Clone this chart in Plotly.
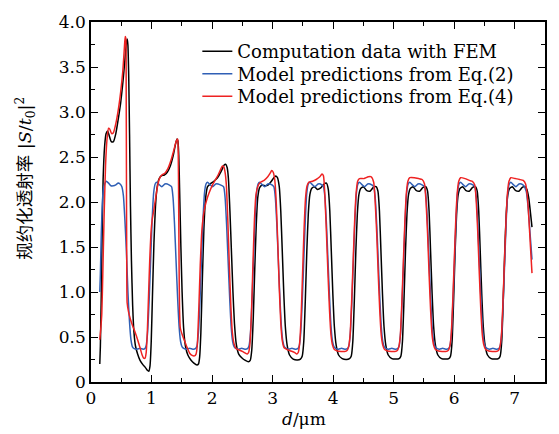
import plotly.graph_objects as go

# ---- data (d in um, normalized transmittance) ----
fem_x = [0.145, 0.155, 0.168, 0.183, 0.20, 0.225, 0.25, 0.275, 0.30, 0.335, 0.37, 0.41, 0.45, 0.49, 0.53, 0.56, 0.585, 0.598, 0.61, 0.623,
         0.637, 0.652, 0.668, 0.688, 0.71, 0.735, 0.77, 0.81, 0.86, 0.90, 0.93, 0.955, 0.975, 0.995, 1.015, 1.04, 1.065, 1.09, 1.12, 1.16,
         1.21, 1.26, 1.31, 1.36, 1.395, 1.42, 1.435, 1.45, 1.465, 1.485, 1.505, 1.53, 1.56, 1.60, 1.65, 1.70, 1.75, 1.775, 1.795, 1.815,
         1.84, 1.865, 1.89, 1.925, 1.97, 2.03, 2.09, 2.15, 2.20, 2.225, 2.25, 2.27, 2.295, 2.32, 2.345, 2.37, 2.40, 2.44, 2.49, 2.55,
         2.60, 2.63, 2.655, 2.68, 2.705, 2.73, 2.755, 2.785, 2.83, 2.88, 2.93, 2.98, 3.02, 3.05, 3.08, 3.11, 3.135, 3.16, 3.185, 3.21,
         3.24, 3.28, 3.34, 3.41, 3.46, 3.49, 3.515, 3.54, 3.565, 3.59, 3.615, 3.645, 3.69, 3.74, 3.80, 3.85, 3.89, 3.92, 3.945, 3.97,
         3.995, 4.02, 4.05, 4.09, 4.15, 4.22, 4.27, 4.30, 4.325, 4.35, 4.375, 4.40, 4.425, 4.455, 4.50, 4.55, 4.61, 4.66, 4.71, 4.74,
         4.765, 4.79, 4.815, 4.84, 4.87, 4.91, 4.97, 5.04, 5.09, 5.12, 5.145, 5.17, 5.195, 5.22, 5.245, 5.275, 5.32, 5.37, 5.43, 5.48,
         5.53, 5.56, 5.585, 5.61, 5.635, 5.66, 5.69, 5.73, 5.79, 5.86, 5.91, 5.94, 5.965, 5.99, 6.015, 6.04, 6.065, 6.095, 6.14, 6.19,
         6.25, 6.30, 6.35, 6.38, 6.405, 6.43, 6.455, 6.48, 6.51, 6.55, 6.61, 6.68, 6.73, 6.76, 6.785, 6.81, 6.835, 6.86, 6.885, 6.915,
         6.96, 7.01, 7.07, 7.12, 7.17, 7.20, 7.23, 7.26, 7.285]
fem_y = [0.20, 0.40, 0.90, 1.60, 2.25, 2.62, 2.76, 2.79, 2.74, 2.67, 2.67, 2.76, 2.92, 3.10, 3.35, 3.58, 3.77, 3.81, 3.74, 3.40,
         2.75, 1.95, 1.35, 0.85, 0.55, 0.40, 0.31, 0.24, 0.19, 0.16, 0.13, 0.12, 0.18, 0.45, 0.95, 1.55, 1.95, 2.15, 2.25, 2.29,
         2.30, 2.33, 2.40, 2.52, 2.64, 2.70, 2.68, 2.52, 2.10, 1.50, 1.00, 0.60, 0.40, 0.30, 0.245, 0.21, 0.19, 0.20, 0.28, 0.55,
         1.15, 1.70, 2.02, 2.17, 2.20, 2.23, 2.27, 2.34, 2.41, 2.42, 2.38, 2.26, 1.90, 1.45, 1.00, 0.65, 0.42, 0.31, 0.27, 0.24,
         0.225, 0.24, 0.35, 0.70, 1.25, 1.75, 2.05, 2.16, 2.19, 2.18, 2.19, 2.23, 2.27, 2.29, 2.27, 2.17, 1.90, 1.45, 0.98, 0.62,
         0.41, 0.30, 0.255, 0.245, 0.255, 0.29, 0.45, 0.90, 1.45, 1.87, 2.08, 2.15, 2.17, 2.14, 2.16, 2.20, 2.21, 2.14, 1.90, 1.45,
         0.98, 0.62, 0.41, 0.30, 0.26, 0.25, 0.26, 0.29, 0.45, 0.90, 1.45, 1.87, 2.08, 2.15, 2.17, 2.13, 2.12, 2.16, 2.17, 2.12,
         1.90, 1.45, 0.98, 0.62, 0.41, 0.30, 0.26, 0.255, 0.26, 0.29, 0.45, 0.90, 1.45, 1.87, 2.08, 2.15, 2.17, 2.13, 2.12, 2.16,
         2.17, 2.12, 1.90, 1.45, 0.98, 0.62, 0.41, 0.30, 0.26, 0.255, 0.26, 0.29, 0.45, 0.90, 1.45, 1.87, 2.08, 2.15, 2.17, 2.13,
         2.12, 2.16, 2.17, 2.12, 1.90, 1.45, 0.98, 0.62, 0.41, 0.30, 0.26, 0.255, 0.26, 0.29, 0.45, 0.90, 1.45, 1.87, 2.08, 2.15,
         2.17, 2.13, 2.12, 2.16, 2.17, 2.14, 2.05, 1.88, 1.72]

eq2_x = [0.145, 0.155, 0.17, 0.185, 0.20, 0.225, 0.255, 0.29, 0.33, 0.37, 0.41, 0.45, 0.48, 0.51, 0.535, 0.56, 0.585, 0.61, 0.635, 0.66,
         0.685, 0.715, 0.76, 0.81, 0.86, 0.89, 0.91, 0.935, 0.96, 0.985, 1.01, 1.035, 1.06, 1.085, 1.13, 1.17, 1.22, 1.26, 1.33, 1.355,
         1.38, 1.405, 1.43, 1.455, 1.48, 1.505, 1.54, 1.58, 1.63, 1.68, 1.725, 1.75, 1.775, 1.80, 1.825, 1.85, 1.875, 1.90, 1.925, 1.97,
         2.01, 2.06, 2.10, 2.19, 2.215, 2.24, 2.265, 2.29, 2.315, 2.34, 2.365, 2.40, 2.44, 2.49, 2.54, 2.585, 2.61, 2.635, 2.66, 2.685,
         2.71, 2.735, 2.76, 2.785, 2.83, 2.87, 2.92, 2.96, 3.02, 3.045, 3.07, 3.095, 3.12, 3.145, 3.17, 3.195, 3.23, 3.27, 3.32, 3.37,
         3.415, 3.44, 3.465, 3.49, 3.515, 3.54, 3.565, 3.59, 3.615, 3.66, 3.70, 3.75, 3.79, 3.84, 3.865, 3.89, 3.915, 3.94, 3.965, 3.99,
         4.015, 4.05, 4.09, 4.14, 4.19, 4.235, 4.26, 4.285, 4.31, 4.335, 4.36, 4.385, 4.41, 4.435, 4.48, 4.52, 4.57, 4.61, 4.67, 4.695,
         4.72, 4.745, 4.77, 4.795, 4.82, 4.845, 4.88, 4.92, 4.97, 5.02, 5.065, 5.09, 5.115, 5.14, 5.165, 5.19, 5.215, 5.24, 5.265, 5.31,
         5.35, 5.40, 5.44, 5.51, 5.535, 5.56, 5.585, 5.61, 5.635, 5.66, 5.685, 5.72, 5.76, 5.81, 5.86, 5.905, 5.93, 5.955, 5.98, 6.005,
         6.03, 6.055, 6.08, 6.105, 6.15, 6.19, 6.24, 6.28, 6.34, 6.365, 6.39, 6.415, 6.44, 6.465, 6.49, 6.515, 6.55, 6.59, 6.64, 6.69,
         6.735, 6.76, 6.785, 6.81, 6.835, 6.86, 6.885, 6.91, 6.935, 6.98, 7.02, 7.07, 7.11, 7.15, 7.19, 7.22, 7.25, 7.285]
eq2_y = [1.00, 1.20, 1.65, 1.95, 2.12, 2.20, 2.23, 2.21, 2.18, 2.18, 2.19, 2.21, 2.20, 2.17, 2.07, 1.80, 1.45, 1.00, 0.68, 0.47,
         0.39, 0.37, 0.365, 0.375, 0.365, 0.37, 0.40, 0.55, 0.90, 1.35, 1.80, 2.10, 2.20, 2.22, 2.19, 2.17, 2.20, 2.20, 2.17, 2.05,
         1.75, 1.35, 0.95, 0.62, 0.45, 0.39, 0.37, 0.365, 0.375, 0.365, 0.37, 0.40, 0.55, 0.90, 1.35, 1.80, 2.10, 2.20, 2.22, 2.19,
         2.17, 2.20, 2.20, 2.17, 2.05, 1.75, 1.35, 0.95, 0.62, 0.45, 0.39, 0.37, 0.365, 0.375, 0.365, 0.37, 0.40, 0.55, 0.90, 1.35,
         1.80, 2.10, 2.20, 2.22, 2.19, 2.17, 2.20, 2.20, 2.17, 2.05, 1.75, 1.35, 0.95, 0.62, 0.45, 0.39, 0.37, 0.365, 0.375, 0.365,
         0.37, 0.40, 0.55, 0.90, 1.35, 1.80, 2.10, 2.20, 2.22, 2.19, 2.17, 2.20, 2.20, 2.17, 2.05, 1.75, 1.35, 0.95, 0.62, 0.45,
         0.39, 0.37, 0.365, 0.375, 0.365, 0.37, 0.40, 0.55, 0.90, 1.35, 1.80, 2.10, 2.20, 2.22, 2.19, 2.17, 2.20, 2.20, 2.17, 2.05,
         1.75, 1.35, 0.95, 0.62, 0.45, 0.39, 0.37, 0.365, 0.375, 0.365, 0.37, 0.40, 0.55, 0.90, 1.35, 1.80, 2.10, 2.20, 2.22, 2.19,
         2.17, 2.20, 2.20, 2.17, 2.05, 1.75, 1.35, 0.95, 0.62, 0.45, 0.39, 0.37, 0.365, 0.375, 0.365, 0.37, 0.40, 0.55, 0.90, 1.35,
         1.80, 2.10, 2.20, 2.22, 2.19, 2.17, 2.20, 2.20, 2.17, 2.05, 1.75, 1.35, 0.95, 0.62, 0.45, 0.39, 0.37, 0.365, 0.375, 0.365,
         0.37, 0.40, 0.55, 0.90, 1.35, 1.80, 2.10, 2.20, 2.22, 2.19, 2.17, 2.20, 2.20, 2.18, 2.12, 1.95, 1.68, 1.36]

eq4_x = [0.145, 0.16, 0.178, 0.195, 0.215, 0.24, 0.265, 0.29, 0.31, 0.34, 0.37, 0.41, 0.45, 0.49, 0.525, 0.55, 0.565, 0.575, 0.581, 0.586,
         0.591, 0.597, 0.62, 0.65, 0.69, 0.73, 0.77, 0.81, 0.845, 0.87, 0.893, 0.912, 0.93, 0.95, 0.97, 0.99, 1.01, 1.035, 1.065, 1.095,
         1.13, 1.17, 1.22, 1.27, 1.32, 1.37, 1.41, 1.432, 1.441, 1.448, 1.455, 1.463, 1.475, 1.51, 1.55, 1.59, 1.63, 1.67, 1.71, 1.735,
         1.755, 1.78, 1.805, 1.83, 1.855, 1.88, 1.91, 1.95, 2.0, 2.05, 2.10, 2.14, 2.17, 2.195, 2.215, 2.235, 2.26, 2.285, 2.31, 2.335,
         2.365, 2.40, 2.45, 2.50, 2.55, 2.58, 2.605, 2.625, 2.65, 2.675, 2.70, 2.725, 2.76, 2.80, 2.86, 2.92, 2.96, 2.985, 3.01, 3.035,
         3.06, 3.085, 3.11, 3.135, 3.16, 3.19, 3.24, 3.30, 3.36, 3.40, 3.425, 3.445, 3.47, 3.495, 3.52, 3.545, 3.57, 3.60, 3.66, 3.72,
         3.78, 3.815, 3.84, 3.865, 3.89, 3.915, 3.94, 3.965, 3.99, 4.02, 4.07, 4.13, 4.19, 4.23, 4.255, 4.28, 4.305, 4.33, 4.355, 4.38,
         4.405, 4.435, 4.51, 4.58, 4.63, 4.67, 4.695, 4.72, 4.745, 4.77, 4.795, 4.82, 4.85, 4.90, 4.96, 5.02, 5.06, 5.085, 5.11, 5.135,
         5.16, 5.185, 5.21, 5.235, 5.265, 5.34, 5.41, 5.47, 5.51, 5.535, 5.56, 5.585, 5.61, 5.635, 5.66, 5.69, 5.74, 5.80, 5.86, 5.90,
         5.925, 5.95, 5.975, 6.0, 6.025, 6.05, 6.075, 6.105, 6.18, 6.25, 6.30, 6.34, 6.365, 6.39, 6.415, 6.44, 6.465, 6.49, 6.52, 6.57,
         6.63, 6.69, 6.73, 6.755, 6.78, 6.805, 6.83, 6.855, 6.88, 6.905, 6.935, 7.01, 7.08, 7.14, 7.18, 7.21, 7.235, 7.26, 7.285]
eq4_y = [0.47, 0.58, 0.75, 1.20, 1.80, 2.40, 2.70, 2.82, 2.81, 2.76, 2.77, 2.87, 3.02, 3.22, 3.45, 3.70, 3.84, 3.82, 3.30, 2.20,
         1.20, 0.88, 0.78, 0.70, 0.62, 0.55, 0.47, 0.38, 0.30, 0.265, 0.265, 0.33, 0.55, 0.95, 1.35, 1.65, 1.80, 1.90, 2.03, 2.16,
         2.26, 2.30, 2.32, 2.37, 2.46, 2.58, 2.68, 2.70, 2.55, 2.00, 1.30, 0.80, 0.60, 0.52, 0.45, 0.38, 0.32, 0.295, 0.29, 0.31,
         0.40, 0.80, 1.30, 1.67, 1.84, 1.94, 2.02, 2.10, 2.18, 2.24, 2.30, 2.36, 2.40, 2.39, 2.33, 2.20, 1.80, 1.30, 0.85, 0.55,
         0.42, 0.37, 0.355, 0.34, 0.32, 0.31, 0.33, 0.42, 0.75, 1.30, 1.80, 2.08, 2.18, 2.22, 2.24, 2.28, 2.32, 2.35, 2.33, 2.25,
         2.00, 1.55, 1.05, 0.66, 0.46, 0.38, 0.36, 0.345, 0.33, 0.31, 0.33, 0.42, 0.70, 1.20, 1.70, 2.05, 2.18, 2.22, 2.23, 2.25,
         2.28, 2.31, 2.29, 2.05, 1.65, 1.20, 0.80, 0.52, 0.41, 0.36, 0.345, 0.34, 0.34, 0.35, 0.39, 0.52, 0.88, 1.33, 1.78, 2.10,
         2.23, 2.26, 2.26, 2.28, 2.28, 2.22, 2.00, 1.65, 1.20, 0.80, 0.52, 0.41, 0.36, 0.345, 0.34, 0.34, 0.35, 0.39, 0.52, 0.88,
         1.33, 1.78, 2.10, 2.23, 2.27, 2.27, 2.26, 2.25, 2.20, 2.00, 1.65, 1.20, 0.80, 0.52, 0.41, 0.36, 0.345, 0.34, 0.34, 0.35,
         0.39, 0.52, 0.88, 1.33, 1.78, 2.10, 2.23, 2.27, 2.26, 2.24, 2.23, 2.19, 2.00, 1.65, 1.20, 0.80, 0.52, 0.41, 0.36, 0.345,
         0.34, 0.34, 0.35, 0.39, 0.52, 0.88, 1.33, 1.78, 2.10, 2.23, 2.27, 2.26, 2.25, 2.24, 2.20, 2.05, 1.80, 1.50, 1.21]

series_names = ["Computation data with FEM", "Model predictions from Eq.(2)", "Model predictions from Eq.(4)"]
series_colors = ["#000000", "#2f5fb5", "#ee2222"]

x_tickvals = [0, 1, 2, 3, 4, 5, 6, 7]
x_ticktext = ["0", "1", "2", "3", "4", "5", "6", "7"]
y_tickvals = [0, 0.5, 1.0, 1.5, 2.0, 2.5, 3.0, 3.5, 4.0]
y_ticktext = ["0", "0.5", "1.0", "1.5", "2.0", "2.5", "3.0", "3.5", "4.0"]

x_title = "<i>d</i>/μm"
y_title = "规约化透射率 |<i>S</i>/<i>t</i><sub>0</sub>|<sup>2</sup>"

SERIF = "DejaVu Serif"

# plot area in pixels: x 91..545.7, y 15..381.7
PX_L, PX_R, PX_T, PX_B = 91.0, 545.7, 15.0, 381.7
def px2paper_x(px):
    return (px - PX_L) / (PX_R - PX_L)
def px2paper_y(py):
    return (PX_B - py) / (PX_B - PX_T)

legend_ids = ["legend", "legend2", "legend3"]
legend_row_px = [45, 68, 91]   # row centres of the reference legend

fig = go.Figure()
for xs, ys, name, col, lg in zip([fem_x, eq2_x, eq4_x], [fem_y, eq2_y, eq4_y], series_names, series_colors, legend_ids):
    fig.add_trace(go.Scatter(x=xs, y=ys, mode="lines", name=name, legend=lg,
                             line=dict(color=col, width=1.5, shape="spline", smoothing=0.5)))

axis_common = dict(
    showline=True, linecolor="black", linewidth=1.5, mirror="allticks",
    ticks="inside", ticklen=7, tickwidth=1.3, tickcolor="black",
    showgrid=False, zeroline=False,
    tickfont=dict(family=SERIF, size=17, color="black"),
)

legend_layout = {}
for lg, row in zip(legend_ids, legend_row_px):
    legend_layout[lg] = dict(x=px2paper_x(197.5), y=px2paper_y(row), xanchor="left", yanchor="middle",
                             bgcolor="rgba(0,0,0,0)", borderwidth=0,
                             font=dict(family=SERIF, size=18, color="black"))

fig.update_layout(
    width=559, height=434,
    margin=dict(l=91, r=13, t=15, b=52),
    paper_bgcolor="white", plot_bgcolor="white",
    showlegend=True,
    xaxis=dict(range=[0, 7.5], tickvals=x_tickvals, ticktext=x_ticktext,
               minor=dict(dtick=0.5, ticks="inside", ticklen=4, tickcolor="black", tickwidth=1.2, showgrid=False),
               **axis_common),
    yaxis=dict(range=[0, 4.0], tickvals=y_tickvals, ticktext=y_ticktext,
               minor=dict(dtick=0.25, ticks="inside", ticklen=4, tickcolor="black", tickwidth=1.2, showgrid=False),
               **axis_common),
    annotations=[
        dict(text=y_title, textangle=-90, xref="paper", yref="paper",
             x=px2paper_x(25), y=px2paper_y(174.5), xanchor="center", yanchor="middle", showarrow=False,
             font=dict(family="DejaVu Serif, Noto Sans CJK SC", size=17.5, color="black")),
        dict(text=x_title, xref="paper", yref="paper",
             x=px2paper_x(304), y=px2paper_y(419), xanchor="center", yanchor="middle", showarrow=False,
             font=dict(family=SERIF, size=17, color="black")),
    ],
    **legend_layout,
)

fig.write_html("out.html", config={"displayModeBar": False},
               post_script="document.body.style.margin='0';")
